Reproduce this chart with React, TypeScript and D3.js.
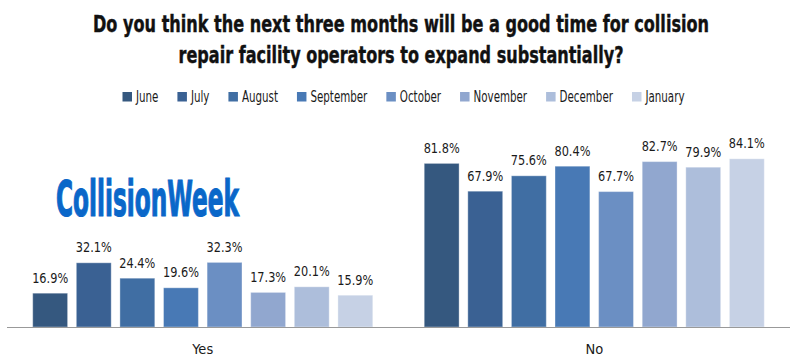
import React, { useEffect, useRef } from "react";
import * as d3 from "d3";

const categories = ["Yes", "No"];
const months = ["June", "July", "August", "September", "October", "November", "December", "January"];
const yesValues = [16.9, 32.1, 24.4, 19.6, 32.3, 17.3, 20.1, 15.9];
const noValues = [81.8, 67.9, 75.6, 80.4, 67.7, 82.7, 79.9, 84.1];
const colors = ["#35587f", "#3a6193", "#406ea3", "#4879b5", "#6b8fc3", "#91a7cf", "#adbedb", "#c6d1e5"];
const titleLines = [
  "Do you think the next three months will be a good time for collision",
  "repair facility operators to expand substantially?",
];

const W = 800;
const H = 364;
const FONT = "'DejaVu Sans Condensed', 'DejaVu Sans', sans-serif";

export default function App() {
  const ref = useRef<SVGSVGElement>(null);
  useEffect(() => {
    const svg = d3.select(ref.current);
    svg.selectAll("*").remove();
    const series = [yesValues, noValues];

    const x0 = d3.scaleBand<string>().domain(categories).range([7, 790]);
    const x1 = d3.scaleBand<string>().domain(months).range([0, x0.bandwidth()]).paddingInner(0.2).paddingOuter(0.59);
    const y = d3.scaleLinear().domain([0, 100]).range([327, 127]);

    // title
    const titleWidths = [616, 445];
    svg.append("g").selectAll("text").data(titleLines).join("text")
      .attr("x", 401).attr("y", (_d, i) => 31.5 + i * 31.5)
      .attr("text-anchor", "middle")
      .attr("font-family", FONT).attr("font-weight", "bold").attr("font-size", 23)
      .attr("fill", "#111").attr("stroke", "#111").attr("stroke-width", 0.4)
      .attr("textLength", (_d, i) => titleWidths[i])
      .attr("lengthAdjust", "spacingAndGlyphs")
      .text(d => d);

    // legend
    const legend = svg.append("g");
    const canvas = document.createElement("canvas");
    const ctx = canvas.getContext("2d")!;
    ctx.font = `15px ${FONT}`;
    const raw = months.map(m => ctx.measureText(m).width);
    const sq = 9.5, sqGap = 4, itemGap = 19, span = 562;
    const k = (span - months.length * (sq + sqGap) - (months.length - 1) * itemGap) / d3.sum(raw);
    let lx = 122.5;
    months.forEach((m, i) => {
      legend.append("rect").attr("x", lx).attr("y", 92).attr("width", sq).attr("height", sq).attr("fill", colors[i]);
      const tw = raw[i] * k;
      legend.append("text").attr("x", lx + sq + sqGap).attr("y", 101.7)
        .attr("font-family", FONT).attr("font-size", 15).attr("fill", "#1a1a1a")
        .attr("textLength", tw).attr("lengthAdjust", "spacingAndGlyphs")
        .text(m);
      lx += sq + sqGap + tw + itemGap;
    });

    // logo
    svg.append("text").attr("x", 56).attr("y", 216)
      .attr("font-family", FONT).attr("font-weight", "bold").attr("font-size", 49)
      .attr("fill", "#0a67c9").attr("stroke", "#0a67c9").attr("stroke-width", 1.2)
      .attr("textLength", 183).attr("lengthAdjust", "spacingAndGlyphs")
      .text("CollisionWeek");

    // bars
    const groups = svg.append("g").selectAll("g").data(categories).join("g")
      .attr("transform", d => `translate(${x0(d)},0)`);
    groups.each(function (cat, ci) {
      const g = d3.select(this);
      const vals = series[ci];
      g.selectAll("rect").data(vals).join("rect")
        .attr("x", (_d, i) => x1(months[i])!)
        .attr("y", d => y(d))
        .attr("width", x1.bandwidth())
        .attr("height", d => y(0) - y(d))
        .attr("fill", (_d, i) => colors[i])
        .attr("stroke", "rgba(255,255,255,0.35)")
        .attr("stroke-width", 1);
      g.selectAll("text").data(vals).join("text")
        .attr("x", (_d, i) => x1(months[i])! + x1.bandwidth() / 2)
        .attr("y", d => y(d) - 10.5)
        .attr("text-anchor", "middle")
        .attr("font-family", FONT).attr("font-size", 14).attr("fill", "#1a1a1a")
        .attr("textLength", 36).attr("lengthAdjust", "spacingAndGlyphs")
        .text(d => `${d.toFixed(1)}%`);
    });

    // axis
    svg.append("line").attr("x1", 7).attr("x2", 790).attr("y1", 327.5).attr("y2", 327.5)
      .attr("stroke", "#999").attr("stroke-width", 1.2);
    svg.append("g").selectAll("text").data(categories).join("text")
      .attr("x", d => x0(d)! + x0.bandwidth() / 2)
      .attr("y", 354)
      .attr("text-anchor", "middle")
      .attr("font-family", FONT).attr("font-size", 14.5).attr("fill", "#1a1a1a")
      .text(d => d);
  }, []);

  return (
    <svg ref={ref} width={W} height={H} style={{ position: "absolute", left: 0, top: 0, background: "#fff" }} />
  );
}
